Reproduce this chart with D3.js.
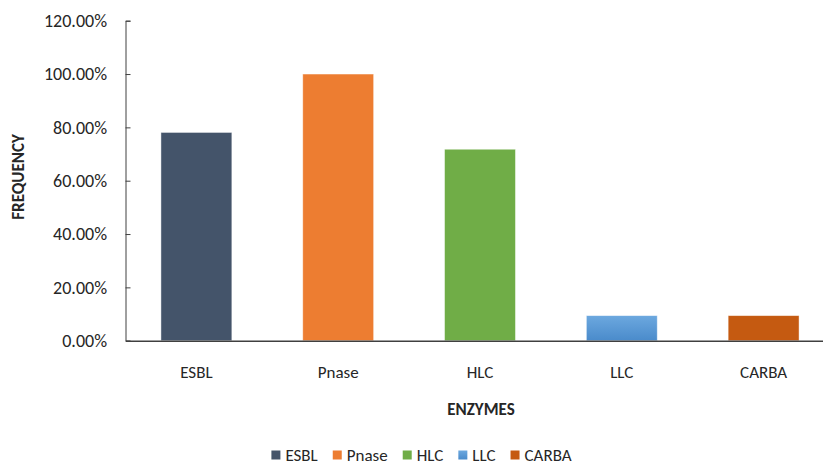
<!DOCTYPE html>
<html>
<head>
<meta charset="utf-8">
<script src="https://cdn.jsdelivr.net/npm/d3@7"></script>
<style>
  html, body { margin: 0; padding: 0; background: #fff; }
  svg { display: block; }
  text { font-family: Carlito, Lato, "Open Sans", sans-serif; fill: #262626; }
</style>
</head>
<body>
<svg id="chart" width="823" height="467"></svg>
<script>
// Enzyme categories and their detected frequency (%)
const categories = ["ESBL", "Pnase", "HLC", "LLC", "CARBA"];
const frequency = [78.1, 100, 71.8, 9.4, 9.4];
const colors = ["#44546A", "#ED7D31", "#70AD47", "#5B9BD5", "#C55A11"];
const yTicks = [0, 20, 40, 60, 80, 100, 120];

const svg = d3.select("#chart");
const plot = { left: 125.5, right: 834.5, top: 20.7, bottom: 340.7 };

const x = d3.scaleBand().domain(categories).range([plot.left, plot.right]).paddingInner(0.5).paddingOuter(0.25);
const y = d3.scaleLinear().domain([0, 120]).range([plot.bottom, plot.top]);

// gradient for the LLC bar
const defs = svg.append("defs");
const grad = defs.append("linearGradient").attr("id", "llcGrad").attr("x1", 0).attr("y1", 0).attr("x2", 0).attr("y2", 1);
grad.append("stop").attr("offset", "0%").attr("stop-color", "#6CA8DF");
grad.append("stop").attr("offset", "100%").attr("stop-color", "#4A8BCB");

// bars
svg.append("g").selectAll("rect").data(categories).join("rect")
  .attr("x", d => x(d))
  .attr("width", x.bandwidth())
  .attr("y", (d, i) => y(frequency[i]))
  .attr("height", (d, i) => y(0) - y(frequency[i]))
  .attr("fill", (d, i) => d === "LLC" ? "url(#llcGrad)" : colors[i])
  .attr("stroke", "rgba(255,255,255,0.55)")
  .attr("stroke-width", 0.8);

// y axis with inward ticks
const yAxis = d3.axisRight(y).tickValues(yTicks).tickSize(5).tickFormat(() => "");
const gy = svg.append("g").attr("transform", `translate(${plot.left},0)`).call(yAxis);
gy.select(".domain").attr("stroke", "#404040").attr("stroke-width", 1);
gy.selectAll(".tick line").attr("stroke", "#404040");

// y tick labels
svg.append("g").selectAll("text").data(yTicks).join("text")
  .attr("x", 107)
  .attr("y", d => y(d))
  .attr("dy", "0.35em")
  .attr("text-anchor", "end")
  .attr("font-size", 18)
  .text(d => d.toFixed(2) + "%");

// x axis
const xAxis = d3.axisBottom(x).tickSize(0).tickPadding(0).tickFormat(() => "");
const gx = svg.append("g").attr("transform", `translate(0,${plot.bottom})`).call(xAxis);
gx.select(".domain").attr("stroke", "#404040").attr("stroke-width", 1.5);

// category labels
svg.append("g").selectAll("text").data(categories).join("text")
  .attr("x", d => x(d) + x.bandwidth() / 2)
  .attr("y", 372)
  .attr("dy", "0.35em")
  .attr("text-anchor", "middle")
  .attr("font-size", 17)
  .text(d => d);

// axis titles
svg.append("text")
  .attr("x", 481).attr("y", 409).attr("dy", "0.35em")
  .attr("text-anchor", "middle")
  .attr("font-size", 17).attr("font-weight", "bold")
  .text("ENZYMES");

svg.append("text")
  .attr("transform", "translate(18,177) rotate(-90)")
  .attr("dy", "0.35em")
  .attr("text-anchor", "middle")
  .attr("font-size", 17).attr("font-weight", "bold")
  .text("FREQUENCY");

// legend
const legend = svg.append("g");
let cx = 0;
categories.forEach((c, i) => {
  const item = legend.append("g").attr("transform", `translate(${cx},0)`);
  item.append("rect").attr("x", 0).attr("y", -4.5).attr("width", 9).attr("height", 9)
    .attr("fill", c === "LLC" ? "url(#llcGrad)" : colors[i]);
  const t = item.append("text").attr("x", 14).attr("y", 0).attr("dy", "0.35em")
    .attr("font-size", 17).text(c);
  cx += 14 + t.node().getComputedTextLength() + 15;
});
const legendWidth = cx - 15;
legend.attr("transform", `translate(${421.5 - legendWidth / 2},455)`);
</script>
</body>
</html>
